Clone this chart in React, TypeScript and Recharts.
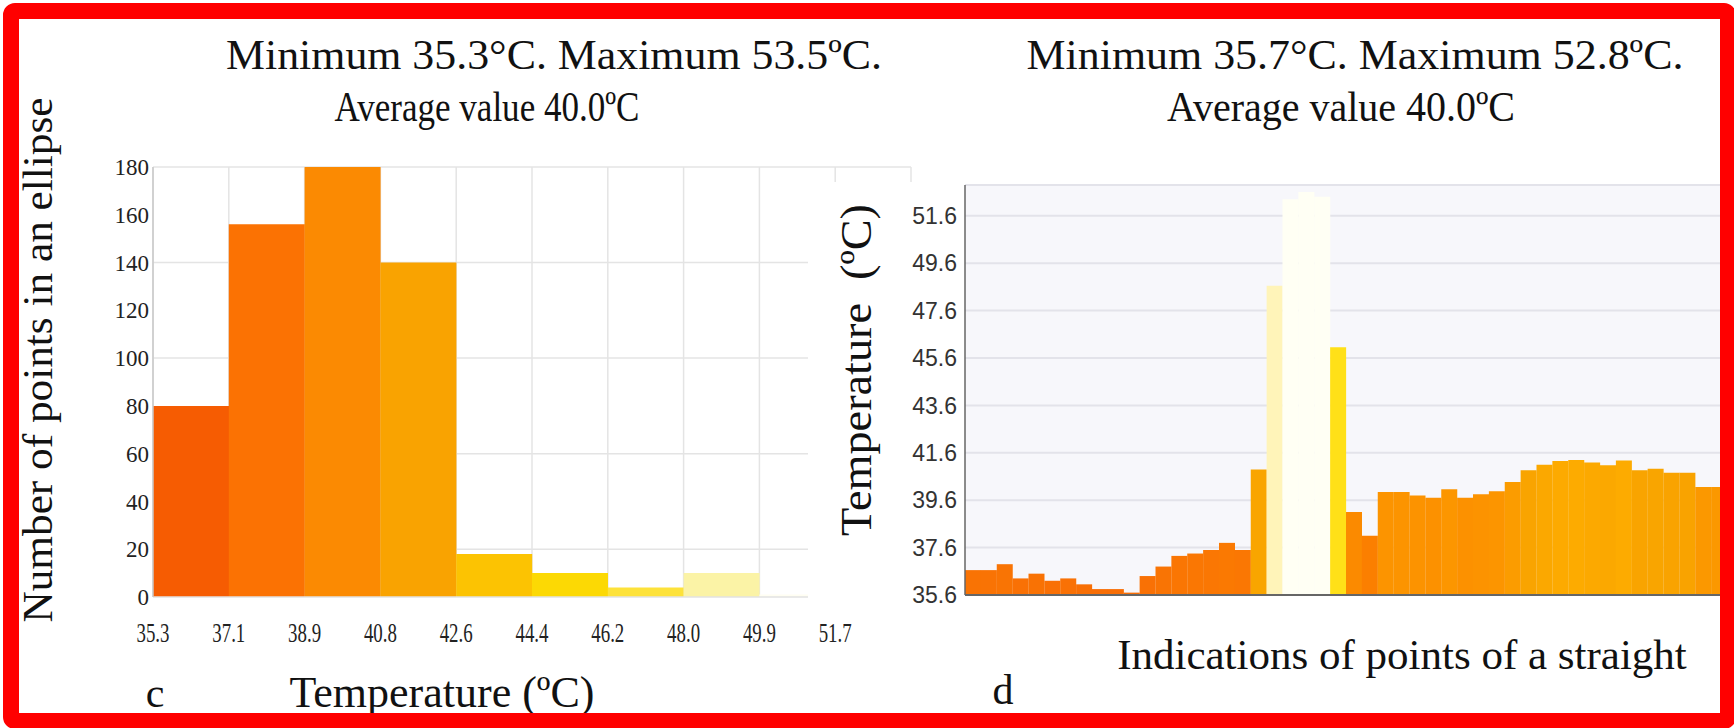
import React from 'react';
import { BarChart, Bar, XAxis, YAxis, CartesianGrid, Cell } from 'recharts';

// ---------- Left chart (c): histogram of temperatures inside an ellipse ----------
const histBins = ['35.3–37.1', '37.1–38.9', '38.9–40.8', '40.8–42.6', '42.6–44.4', '44.4–46.2', '46.2–48.0', '48.0–49.9', '49.9–51.7', '51.7–53.5'];
const histEdgeLabels = ['35.3', '37.1', '38.9', '40.8', '42.6', '44.4', '46.2', '48.0', '49.9', '51.7'];
const histEdgeIndex = [0, 1, 2, 3, 4, 5, 6, 7, 8, 9];
const histCounts = [80, 156, 180, 140, 18, 10, 4, 10, 1, 0];
const histYTicks = [0, 20, 40, 60, 80, 100, 120, 140, 160, 180];
const histGridValues = [20, 60, 100, 140, 180];
const histPalette = ['#f65c02', '#fb7203', '#fb8a02', '#f9a301', '#fcc302', '#fcd904', '#fde23a', '#fbf3a6', '#fffef2', '#ffffff'];

// ---------- Right chart (d): temperature along a straight line ----------
const lineTemps = [
  36.65, 36.65, 36.9, 36.3, 36.5, 36.2, 36.3, 36.05, 35.85, 35.85, 35.7, 36.4,
  36.8, 37.25, 37.35, 37.5, 37.8, 37.5, 40.9, 48.65, 52.3, 52.6, 52.4, 46.05,
  39.1, 38.1, 39.95, 39.95, 39.8, 39.7, 40.06, 39.7, 39.85, 39.98, 40.37, 40.86,
  41.1, 41.25, 41.3, 41.19, 41.07, 41.28, 40.86, 40.93, 40.76, 40.76, 40.16, 40.16,
];
const lineYTicks = [35.6, 37.6, 39.6, 41.6, 43.6, 45.6, 47.6, 49.6, 51.6];

const histData = histBins.map((bin, i) => ({ bin, count: histCounts[i], edge: histEdgeIndex[i] }));
const lineData = lineTemps.map((temp, i) => ({ point: i + 1, temp }));

// heat colour map (temperature -> colour)
const heatStops: [number, string][] = [
  [35.6, '#f86d06'], [37.8, '#fa7902'], [38.1, '#fb7f00'], [39.1, '#fb8a00'],
  [40.0, '#fc9500'], [40.9, '#f9a500'], [41.3, '#fdab00'], [46.0, '#ffe015'],
  [48.6, '#fff4b8'], [52.3, '#fffff4'],
];
const hexToRgb = (h: string) => [1, 3, 5].map((k) => parseInt(h.slice(k, k + 2), 16));
const heatColor = (t: number) => {
  if (t <= heatStops[0][0]) return heatStops[0][1];
  for (let i = 1; i < heatStops.length; i++) {
    const [t1, c1] = heatStops[i];
    const [t0, c0] = heatStops[i - 1];
    if (t <= t1) {
      const f = (t - t0) / (t1 - t0);
      const a = hexToRgb(c0);
      const b = hexToRgb(c1);
      const m = a.map((v, k) => Math.round(v + (b[k] - v) * f));
      return `rgb(${m[0]},${m[1]},${m[2]})`;
    }
  }
  return heatStops[heatStops.length - 1][1];
};

const SERIF = '"Liberation Serif", "Times New Roman", serif';
const SANS = '"Liberation Sans", Arial, sans-serif';

const EdgeTick = (props: any) => {
  const { x, y, payload } = props;
  return (
    <text
      x={x}
      y={y + 45}
      textAnchor="middle"
      fontSize={28}
      textLength={33}
      lengthAdjust="spacingAndGlyphs"
      fontFamily={SERIF}
      fill="#222"
    >
      {histEdgeLabels[payload.value]}
    </text>
  );
};

export default function App() {
  return (
    <div style={{ position: 'absolute', left: 0, top: 0, width: 1734, height: 728, background: '#fff', overflow: 'hidden' }}>
      {/* Left histogram */}
      <div style={{ position: 'absolute', left: 0, top: 0 }}>
        <BarChart
          width={930}
          height={700}
          data={histData}
          margin={{ top: 167, right: 19, bottom: 63, left: 93 }}
          barCategoryGap={0}
          barGap={0}
        >
          <CartesianGrid
            xAxisId="edges"
            stroke="#e4e4e4"
            strokeWidth={1.5}
            horizontalValues={histGridValues}
          />
          <XAxis
            xAxisId="edges"
            dataKey="edge"
            type="number"
            domain={[0, 10]}
            allowDataOverflow
            ticks={histEdgeIndex}
            interval={0}
            height={40}
            tickSize={0}
            tickMargin={0}
            tickLine={false}
            axisLine={{ stroke: '#e2e2e2', strokeWidth: 1.5 }}
            tick={<EdgeTick />}
          />
          <XAxis xAxisId="bins" dataKey="bin" type="category" height={0} hide />
          <YAxis
            domain={[0, 180]}
            ticks={histYTicks}
            interval={0}
            width={60}
            tickSize={0}
            tickMargin={4}
            tickLine={false}
            axisLine={{ stroke: '#c8c8c8', strokeWidth: 1.5 }}
            tick={{ fontSize: 23, fill: '#222', fontFamily: SERIF }}
          />
          <Bar xAxisId="bins" dataKey="count" isAnimationActive={false}>
            {histData.map((d, i) => (
              <Cell key={d.bin} fill={histPalette[i]} />
            ))}
          </Bar>
        </BarChart>
      </div>

      {/* Right line-profile bar chart panel */}
      <div style={{ position: 'absolute', left: 808, top: 182, width: 926, height: 438, background: '#fff' }}>
        <BarChart
          width={926}
          height={438}
          data={lineData}
          margin={{ top: 3, right: 7, bottom: 23, left: 87 }}
          barCategoryGap={0}
          barGap={0}
        >
          <CartesianGrid vertical={false} stroke="#e3e3ea" strokeWidth={2} fill="#f7f7fb" />
          <XAxis
            dataKey="point"
            type="category"
            height={2}
            tick={false}
            tickLine={false}
            axisLine={{ stroke: '#666', strokeWidth: 2 }}
          />
          <YAxis
            domain={[35.6, 52.9]}
            ticks={lineYTicks}
            interval={0}
            width={70}
            tickSize={0}
            tickMargin={8}
            tickLine={false}
            axisLine={{ stroke: '#666', strokeWidth: 1.5 }}
            tickFormatter={(v: number) => v.toFixed(1)}
            tick={{ fontSize: 23, fill: '#333', fontFamily: SANS }}
          />
          <Bar dataKey="temp" isAnimationActive={false}>
            {lineData.map((d) => (
              <Cell key={d.point} fill={heatColor(d.temp)} />
            ))}
          </Bar>
        </BarChart>
      </div>

      {/* Text overlay */}
      <svg
        width={1734}
        height={728}
        style={{ position: 'absolute', left: 0, top: 0, pointerEvents: 'none' }}
        fontFamily={SERIF}
        fill="#111"
      >
        <text x={554} y={69} fontSize={43} textAnchor="middle" textLength={656} lengthAdjust="spacingAndGlyphs">Minimum 35.3°C. Maximum 53.5ºC.</text>
        <text x={487} y={121} fontSize={42} textAnchor="middle" textLength={305} lengthAdjust="spacingAndGlyphs">Average value 40.0ºC</text>
        <text x={1355} y={69} fontSize={43} textAnchor="middle" textLength={657} lengthAdjust="spacingAndGlyphs">Minimum 35.7°C. Maximum 52.8ºC.</text>
        <text x={1341} y={121} fontSize={42} textAnchor="middle" textLength={348} lengthAdjust="spacingAndGlyphs">Average value 40.0ºC</text>
        <text
          transform="translate(37,360) rotate(-90)"
          fontSize={43}
          textAnchor="middle"
          dominantBaseline="central"
          textLength={525}
          lengthAdjust="spacingAndGlyphs"
        >
          Number of points in an ellipse
        </text>
        <text
          transform="translate(856,370) rotate(-90)"
          fontSize={44}
          textAnchor="middle"
          dominantBaseline="central"
          textLength={332}
          lengthAdjust="spacingAndGlyphs"
          style={{ whiteSpace: 'pre' }}
        >
          {'Temperature  (ºC)'}
        </text>
        <text x={155} y={707} fontSize={42} textAnchor="middle">c</text>
        <text x={442} y={707} fontSize={44} textAnchor="middle">Temperature (ºC)</text>
        <text x={1003} y={704} fontSize={42} textAnchor="middle">d</text>
        <text x={1402} y={669} fontSize={43} textAnchor="middle">Indications of points of a straight</text>
      </svg>

      {/* Red frame */}
      <div
        style={{
          position: 'absolute',
          left: 3,
          top: 3,
          width: 1733,
          height: 726,
          boxSizing: 'border-box',
          border: '16px solid #ff0000',
          borderRadius: 12,
          pointerEvents: 'none',
        }}
      />
    </div>
  );
}
